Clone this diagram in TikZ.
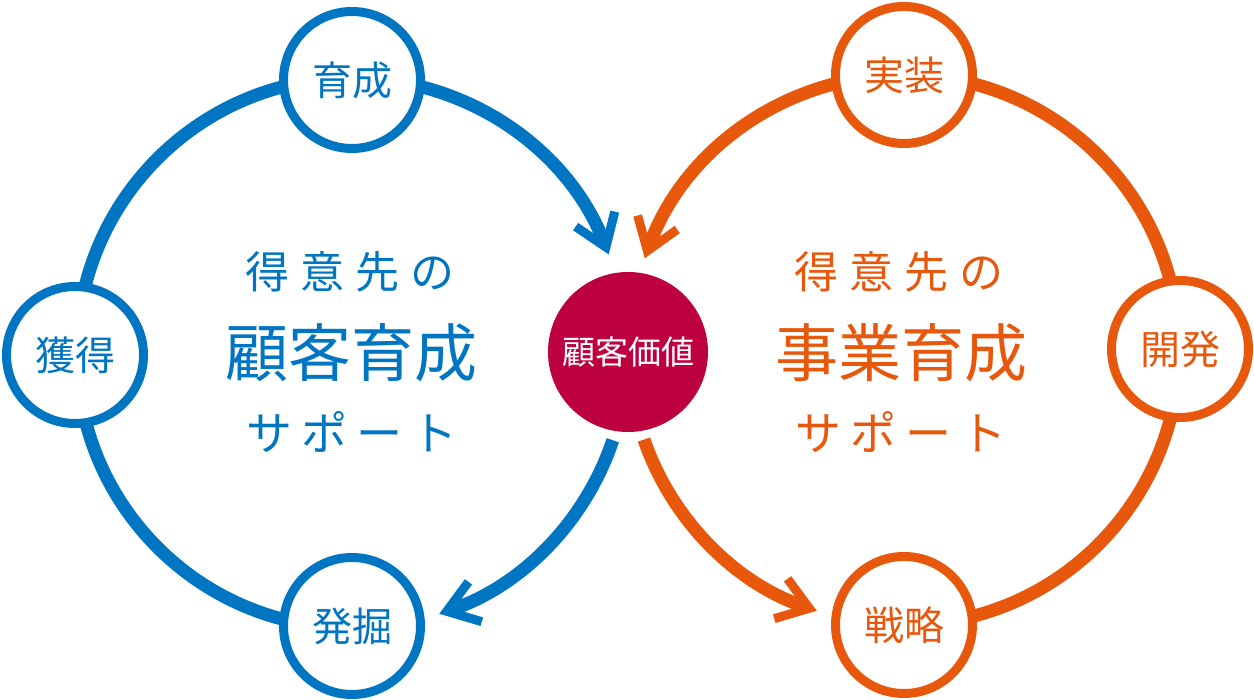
\documentclass[tikz,border=0pt]{standalone}
\usepackage{fontspec}
\setmainfont{Noto Sans CJK JP}
\usetikzlibrary{arrows.meta}
\definecolor{cblue}{HTML}{0075C2}
\definecolor{corange}{HTML}{E8580C}
\definecolor{cred}{HTML}{BC0040}
\newcommand{\lsp}{\kern11pt}
\newcommand{\ssp}{\kern9pt}
\begin{document}
\begin{tikzpicture}[x=1pt,y=1pt,
  bigarc/.style={line width=13pt},
  arr/.style={-{Straight Barb[length=30pt,width=42pt,line width=9pt,sharp]}},
  smallnode/.style={circle,draw,line width=9pt,fill=white,minimum size=137pt,inner sep=0pt,font=\fontsize{40}{44}\selectfont},
  centernode/.style={circle,fill=cred,text=white,minimum size=160pt,inner sep=0pt,font=\fontsize{33}{36}\selectfont},
  midtext/.style={inner sep=0pt,font=\fontsize{44}{48}\selectfont},
  bigtext/.style={inner sep=0pt,font=\fontsize{63}{68}\selectfont},
  subtext/.style={inner sep=0pt,font=\fontsize{46}{50}\selectfont}]
\useasboundingbox (0,0) rectangle (1254,700);
\coordinate (L) at (352,347);
\coordinate (R) at (904,350);
% blue cycle
\draw[cblue,bigarc] ([shift={(90:275)}]L) arc[start angle=90,end angle=270,radius=275];
\draw[cblue,bigarc,arr] ([shift={(90:275)}]L) arc[start angle=90,end angle=21,radius=275];
\draw[cblue,bigarc,arr] ([shift={(-18.5:275)}]L) arc[start angle=-18.5,end angle=-71.5,radius=275];
% orange cycle
\draw[corange,bigarc] ([shift={(90:275)}]R) arc[start angle=90,end angle=-90,radius=275];
\draw[corange,bigarc,arr] ([shift={(90:275)}]R) arc[start angle=90,end angle=160.5,radius=275];
\draw[corange,bigarc,arr] ([shift={(199:275)}]R) arc[start angle=199,end angle=251.5,radius=275];
% nodes
\node[smallnode,draw=cblue,text=cblue] (ikusei) at (352,620) {育成};
\node[smallnode,draw=cblue,text=cblue] (kakutoku) at (75,345) {獲得};
\node[smallnode,draw=cblue,text=cblue] (hakkutsu) at (352,74) {発掘};
\node[smallnode,draw=corange,text=corange] (jisso) at (904,625) {実装};
\node[smallnode,draw=corange,text=corange] (kaihatsu) at (1180,351) {開発};
\node[smallnode,draw=corange,text=corange] (senryaku) at (904,75) {戦略};
\node[centernode] (kachi) at (628,348) {顧客価値};
% texts
\node[midtext,text=cblue] (l1) at (350,428) {得\lsp 意\lsp 先\lsp の};
\node[bigtext,text=cblue] (l2) at (351,347) {顧客育成};
\node[subtext,text=cblue] (l3) at (352,268) {サ\ssp ポ\ssp ー\ssp ト};
\node[midtext,text=corange] (r1) at (899,428) {得\lsp 意\lsp 先\lsp の};
\node[bigtext,text=corange] (r2) at (901,347) {事業育成};
\node[subtext,text=corange] (r3) at (901,268) {サ\ssp ポ\ssp ー\ssp ト};
\end{tikzpicture}
\end{document}
